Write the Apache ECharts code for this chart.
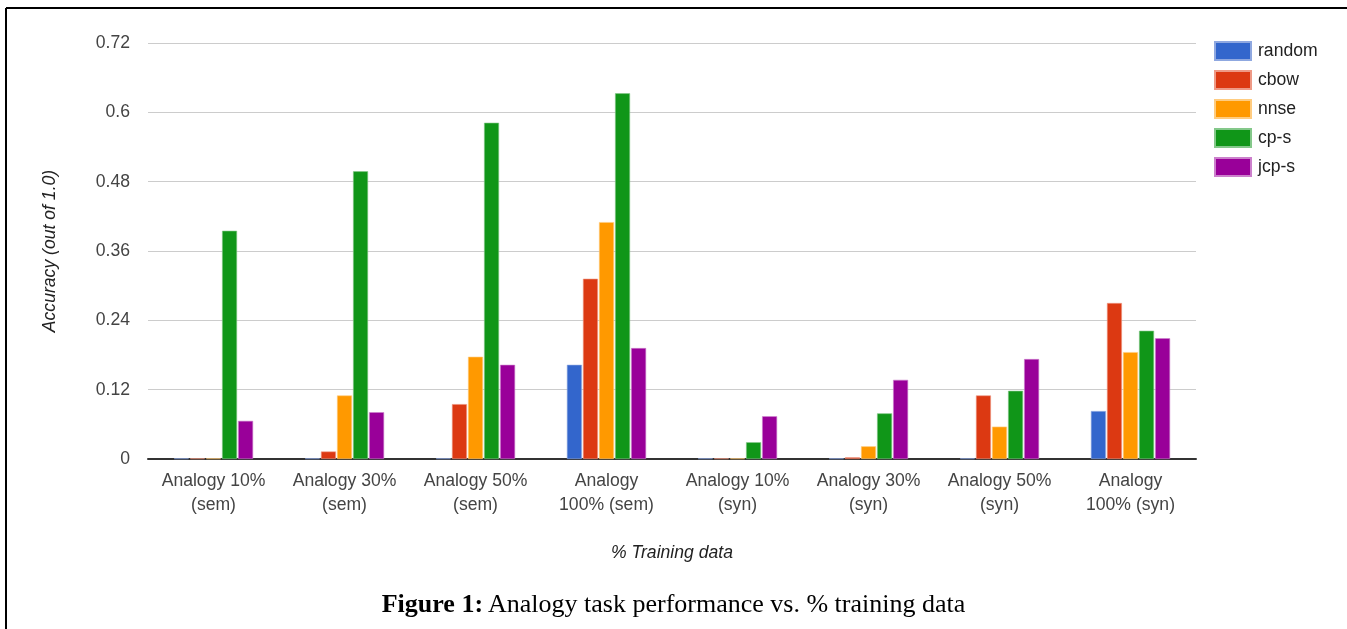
<!DOCTYPE html>
<html>
<head>
<meta charset="utf-8">
<script src="https://cdn.jsdelivr.net/npm/echarts@6/dist/echarts.min.js"></script>
<style>
html,body{margin:0;padding:0;background:#fff;}
#chart{width:1347px;height:629px;}
</style>
</head>
<body>
<div id="chart"></div>
<script>
const categories = ["Analogy 10%\n(sem)", "Analogy 30%\n(sem)", "Analogy 50%\n(sem)", "Analogy\n100% (sem)",
                    "Analogy 10%\n(syn)", "Analogy 30%\n(syn)", "Analogy 50%\n(syn)", "Analogy\n100% (syn)"];
const seriesNames = ["random", "cbow", "nnse", "cp-s", "jcp-s"];
const random = [0.001, 0.001, 0.001, 0.163, 0.001, 0.001, 0.001, 0.083];
const cbow   = [0.001, 0.013, 0.095, 0.312, 0.001, 0.003, 0.110, 0.270];
const nnse   = [0.001, 0.110, 0.177, 0.410, 0.001, 0.022, 0.056, 0.185];
const cps    = [0.395, 0.498, 0.582, 0.633, 0.029, 0.079, 0.118, 0.222];
const jcps   = [0.066, 0.081, 0.163, 0.192, 0.074, 0.137, 0.173, 0.209];
const yTicks = [0, 0.12, 0.24, 0.36, 0.48, 0.6, 0.72];
const colors = ["#3366cc", "#dc3912", "#ff9900", "#109618", "#990099"];
const borders = ["#8fa8e0", "#ee9a86", "#ffcc80", "#84c88a", "#cc80cc"];

const chart = echarts.init(document.getElementById('chart'));
const dataSets = [random, cbow, nnse, cps, jcps];
const font = '"Liberation Sans", Arial, sans-serif';
const serif = '"Liberation Serif", "Times New Roman", serif';
const fs = 17.6;
chart.setOption({
  animation: false,
  color: colors,
  textStyle: { fontFamily: font },
  grid: { left: 148, right: 151, top: 43, bottom: 170, containLabel: false },
  title: {
    left: 'center', top: 587,
    text: '{b|Figure 1:} {n|Analogy task performance vs. % training data}',
    textStyle: {
      fontWeight: 'normal',
      rich: {
        b: { fontFamily: serif, fontWeight: 'bold', fontSize: 26, color: '#000' },
        n: { fontFamily: serif, fontWeight: 'normal', fontSize: 26, color: '#000' }
      }
    }
  },
  legend: {
    orient: 'vertical', left: 1209, top: 36,
    itemWidth: 36, itemHeight: 18, itemGap: 9, icon: 'rect',
    data: seriesNames,
    textStyle: { fontFamily: font, fontSize: fs, color: '#222', padding: [0, 0, 0, 2] }
  },
  graphic: [
    { type: 'line', shape: { x1: 6, y1: 8, x2: 1347, y2: 8 }, style: { stroke: '#000', lineWidth: 2 } },
    { type: 'line', shape: { x1: 6, y1: 8, x2: 6, y2: 629 }, style: { stroke: '#000', lineWidth: 2 } }
  ],
  xAxis: {
    type: 'category', data: categories,
    name: '% Training data', nameLocation: 'middle', nameGap: 85,
    nameTextStyle: { fontFamily: font, fontStyle: 'italic', fontSize: fs, color: '#222' },
    axisLine: { lineStyle: { color: '#333', width: 2 } },
    axisTick: { show: false },
    axisLabel: { fontFamily: font, fontSize: fs, color: '#444', lineHeight: 24, margin: 10, interval: 0 }
  },
  yAxis: {
    type: 'value', min: 0, max: 0.72, interval: 0.12,
    name: 'Accuracy (out of 1.0)', nameLocation: 'middle', nameGap: 89,
    nameTextStyle: { fontFamily: font, fontStyle: 'italic', fontSize: fs, color: '#222' },
    axisLine: { show: false }, axisTick: { show: false },
    splitLine: { lineStyle: { color: '#cccccc', width: 1 } },
    axisLabel: { fontFamily: font, fontSize: fs, color: '#444', margin: 18,
      formatter: v => { const t = yTicks.find(x => Math.abs(x - v) < 1e-9); return String(t !== undefined ? t : v); } }
  },
  series: seriesNames.map((n, i) => ({
    name: n, type: 'bar', data: dataSets[i],
    barWidth: 15, barGap: '7%',
    itemStyle: { color: colors[i], borderColor: borders[i], borderWidth: 0.6 }
  }))
});
</script>
</body>
</html>
